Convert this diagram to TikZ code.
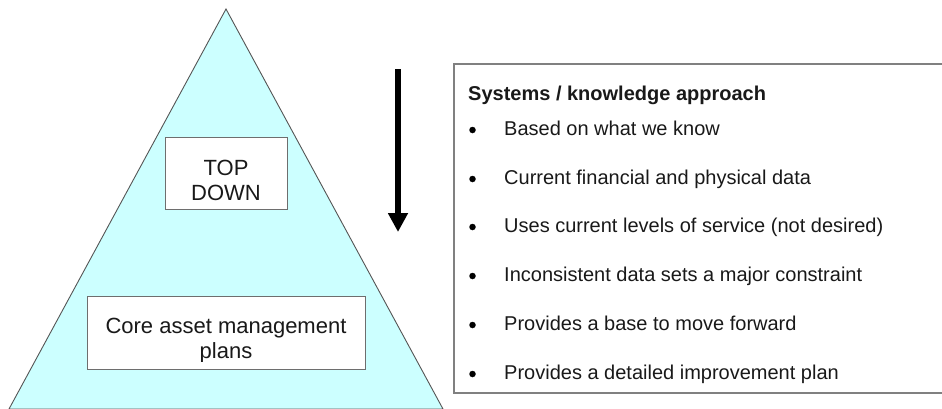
\documentclass[tikz,border=0pt]{standalone}
\usepackage{fontspec}
\setmainfont{Liberation Sans}
\usetikzlibrary{arrows.meta}
\definecolor{pyr}{HTML}{CCFFFF}
\definecolor{edge}{HTML}{555555}
\definecolor{boxedge}{HTML}{6E6E6E}
\definecolor{rboxedge}{HTML}{808080}
\tikzset{
  wbox/.style={draw=boxedge, line width=1pt, fill=white, inner sep=0pt},
  lefttxt/.style={font=\fontsize{22}{25}\selectfont, inner sep=0pt, anchor=base, text=black!90},
  righttxt/.style={font=\fontsize{20}{24}\selectfont, inner sep=0pt, anchor=base west, text=black!90},
  bul/.style={circle, fill=black, inner sep=0pt, minimum size=6.5pt},
}
\begin{document}
\begin{tikzpicture}[x=1pt,y=-1pt]
\useasboundingbox (0,0) rectangle (942,408);
% pyramid
\coordinate (apex) at (226,9);
\coordinate (bl) at (9,409);
\coordinate (br) at (443,409);
\filldraw[fill=pyr, draw=edge, line width=0.9pt] (bl) -- (apex) -- (br) -- cycle;
% top down box
\node[wbox, minimum width=122pt, minimum height=72pt] (topbox) at (226,173) {};
\node[lefttxt] (top1) at (226,175) {TOP};
\node[lefttxt] (top2) at (226,200) {DOWN};
% core box
\node[wbox, minimum width=278pt, minimum height=73pt] (corebox) at (226,332.5) {};
\node[lefttxt] (core1) at (226,333) {Core asset management};
\begin{scope}
\clip (88,297) rectangle (364,361);
\node[lefttxt] (core2) at (226,358) {plans};
\end{scope}
% arrow
\coordinate (arrtop) at (398,69);
\coordinate (arrtip) at (398,232);
\draw[line width=6pt, -{Triangle[width=19pt,length=19pt]}] (arrtop) -- (arrtip);
% right box
\node[draw=rboxedge, line width=1.6pt, anchor=north west, minimum width=500pt, minimum height=329pt, inner sep=0pt] (rbox) at (453,63) {};
\node[righttxt, font=\fontsize{20}{24}\selectfont\bfseries] (title) at (468,100) {Systems / knowledge approach};
\node[bul] (b1) at (472.5,130) {};
\node[righttxt] (t1) at (504,135) {Based on what we know};
\node[bul] (b2) at (472.5,179) {};
\node[righttxt] (t2) at (504,184) {Current financial and physical data};
\node[bul] (b3) at (472.5,227) {};
\node[righttxt] (t3) at (504,232) {Uses current levels of service (not desired)};
\node[bul] (b4) at (472.5,276) {};
\node[righttxt] (t4) at (504,281) {Inconsistent data sets a major constraint};
\node[bul] (b5) at (472.5,325) {};
\node[righttxt] (t5) at (504,330) {Provides a base to move forward};
\node[bul] (b6) at (472.5,374) {};
\node[righttxt] (t6) at (504,379) {Provides a detailed improvement plan};
\end{tikzpicture}
\end{document}
